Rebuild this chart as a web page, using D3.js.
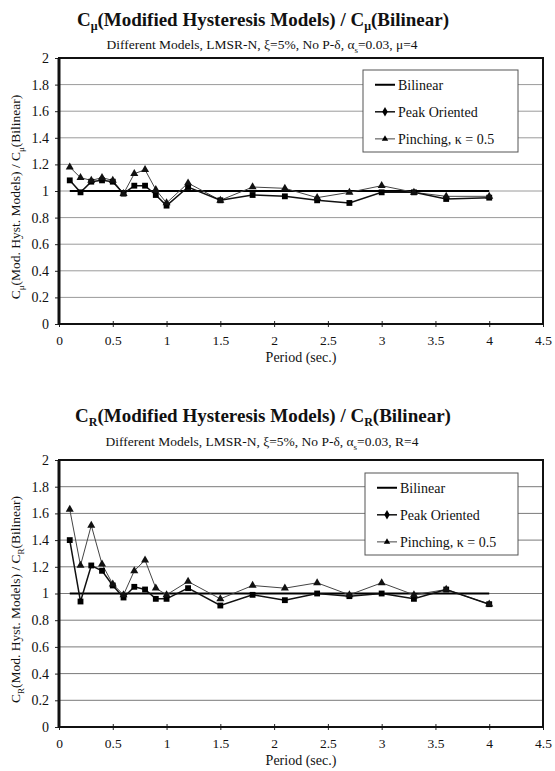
<!DOCTYPE html>
<html>
<head>
<meta charset="utf-8">
<script src="https://cdn.jsdelivr.net/npm/d3@7/dist/d3.min.js"></script>
<style>
  html, body { margin: 0; padding: 0; background: #fff; }
  svg { display: block; }
  svg text { font-family: "Liberation Serif", "Times New Roman", Times, serif; fill: #111; }
</style>
</head>
<body>
<svg id="chart" width="555" height="771"></svg>
<script>
// ---------------- DATA ----------------
const periods = [0.1, 0.2, 0.3, 0.4, 0.5, 0.6, 0.7, 0.8, 0.9, 1.0, 1.2, 1.5, 1.8, 2.1, 2.4, 2.7, 3.0, 3.3, 3.6, 4.0];

// Top chart: C_mu ratio
const bilinearMu = [1, 1, 1, 1, 1, 1, 1, 1, 1, 1, 1, 1, 1, 1, 1, 1, 1, 1, 1, 1];
const peakMu     = [1.08, 0.99, 1.07, 1.08, 1.07, 0.98, 1.04, 1.04, 0.97, 0.89, 1.03, 0.93, 0.97, 0.96, 0.93, 0.91, 0.99, 0.99, 0.94, 0.95];
const pinchMu    = [1.18, 1.10, 1.08, 1.10, 1.08, 0.98, 1.13, 1.16, 1.01, 0.91, 1.06, 0.93, 1.03, 1.02, 0.95, 0.99, 1.04, 0.99, 0.96, 0.96];

// Bottom chart: C_R ratio
const bilinearR = [1, 1, 1, 1, 1, 1, 1, 1, 1, 1, 1, 1, 1, 1, 1, 1, 1, 1, 1, 1];
const peakR     = [1.40, 0.94, 1.21, 1.17, 1.06, 0.97, 1.05, 1.03, 0.96, 0.96, 1.04, 0.91, 0.99, 0.95, 1.00, 0.98, 1.00, 0.96, 1.03, 0.92];
const pinchR    = [1.63, 1.21, 1.51, 1.22, 1.07, 0.99, 1.17, 1.25, 1.04, 0.99, 1.09, 0.96, 1.06, 1.04, 1.08, 0.99, 1.08, 0.99, 1.03, 0.92];

const xTicks = [0, 0.5, 1, 1.5, 2, 2.5, 3, 3.5, 4, 4.5];
const yTicks = [0, 0.2, 0.4, 0.6, 0.8, 1, 1.2, 1.4, 1.6, 1.8, 2];
const legendLabels = ["Bilinear", "Peak Oriented", "Pinching, κ = 0.5"];
const xTitle = "Period (sec.)";

// ---------------- DRAW ----------------
const svg = d3.select("#chart");
svg.append("rect").attr("width", 555).attr("height", 771).attr("fill", "#fff");

function richText(el, parts, size, subSize, shiftRatio = 0.3) {
  let prevSub = false;
  const shift = size * shiftRatio;
  parts.forEach(([t, sub]) => {
    let dy = 0;
    if (sub && !prevSub) dy = shift;
    if (!sub && prevSub) dy = -shift;
    el.append("tspan").attr("font-size", sub ? subSize : size).attr("dy", dy).text(t);
    prevSub = sub;
  });
}

function drawChart(cfg) {
  const { top, bottom, left, right, sym, subParts, titleY, subY, legendBox, gridColor, data } = cfg;
  const x = d3.scaleLinear().domain([0, 4.5]).range([left, right]);
  const y = d3.scaleLinear().domain([0, 2]).range([bottom, top]);
  const g = svg.append("g");

  // Title
  const t = g.append("text").attr("x", 263).attr("y", titleY).attr("text-anchor", "middle")
    .attr("font-weight", "bold").attr("font-size", 19);
  richText(t, [["C", false], [sym, true], ["(Modified Hysteresis Models) / C", false], [sym, true], ["(Bilinear)", false]], 19, 12, 0.22);

  const st = g.append("text").attr("x", 262).attr("y", subY).attr("text-anchor", "middle").attr("font-size", 13.5);
  richText(st, subParts, 13.5, 9);

  // Gridlines
  g.append("g").selectAll("line").data(yTicks.filter(v => v > 0 && v < 2)).join("line")
    .attr("x1", left).attr("x2", right)
    .attr("y1", d => y(d)).attr("y2", d => y(d))
    .attr("stroke", gridColor).attr("stroke-width", 1);

  // Axes
  const yAxis = d3.axisLeft(y).tickValues(yTicks).tickSize(4).tickFormat(d => d3.format("~g")(d));
  const ya = g.append("g").attr("transform", `translate(${left},0)`).call(yAxis);
  ya.select(".domain").remove();
  ya.selectAll("text").attr("font-size", 14).attr("dx", -3).attr("fill", "#111");
  ya.selectAll("line").attr("stroke", "#222");

  const xAxis = d3.axisBottom(x).tickValues(xTicks).tickSize(4).tickFormat(d => d3.format("~g")(d));
  const xa = g.append("g").attr("transform", `translate(0,${bottom})`).call(xAxis);
  xa.select(".domain").remove();
  xa.selectAll("text").attr("font-size", 13.5).attr("y", 6).attr("dy", "1.1em").attr("fill", "#111");
  xa.selectAll("line").attr("stroke", "#222").attr("y1", -3).attr("y2", 3);

  g.append("text").attr("x", x(2.25)).attr("y", bottom + 38).attr("text-anchor", "middle")
    .attr("font-size", 14).text(xTitle);

  // Y title
  const yt = g.append("text").attr("transform", `translate(20,${(top + bottom) / 2 + 6}) rotate(-90)`)
    .attr("text-anchor", "middle").attr("font-size", 13.5);
  richText(yt, [["C", false], [sym, true], ["(Mod. Hyst. Models) / C", false], [sym, true], ["(Bilinear)", false]], 13.5, 9);

  // Frame
  g.append("rect").attr("x", left).attr("y", top).attr("width", right - left).attr("height", bottom - top)
    .attr("fill", "none").attr("stroke", "#111").attr("stroke-width", 2);
  g.append("line").attr("x1", left).attr("x2", left).attr("y1", top).attr("y2", bottom)
    .attr("stroke", "#111").attr("stroke-width", 3);

  const line = d3.line().x(d => x(d[0])).y(d => y(d[1]));
  const pts = vals => periods.map((p, i) => [p, vals[i]]);

  g.append("path").attr("d", line(pts(data.bil))).attr("fill", "none").attr("stroke", "#000").attr("stroke-width", 2.2);
  g.append("path").attr("d", line(pts(data.pin))).attr("fill", "none").attr("stroke", "#444").attr("stroke-width", 1);
  g.append("path").attr("d", line(pts(data.peak))).attr("fill", "none").attr("stroke", "#111").attr("stroke-width", 1.5);

  const tri = d3.symbol().type(d3.symbolTriangle).size(28);
  const sq = d3.symbol().type(d3.symbolSquare).size(34);
  g.append("g").selectAll("path").data(pts(data.peak)).join("path")
    .attr("d", sq).attr("transform", d => `translate(${x(d[0])},${y(d[1])})`).attr("fill", "#000");
  g.append("g").selectAll("path").data(pts(data.pin)).join("path")
    .attr("d", tri).attr("transform", d => `translate(${x(d[0])},${y(d[1])})`).attr("fill", "#111");

  // Legend
  const [lx, ly, lw, lh] = legendBox;
  const lg = g.append("g");
  lg.append("rect").attr("x", lx).attr("y", ly).attr("width", lw).attr("height", lh)
    .attr("fill", "#fff").attr("stroke", "#555").attr("stroke-width", 1);
  const rows = [ly + lh * 0.18, ly + lh * 0.51, ly + lh * 0.84];
  rows.forEach((ry, i) => {
    const sx1 = lx + 12, sx2 = lx + 32;
    lg.append("line").attr("x1", sx1).attr("x2", sx2).attr("y1", ry).attr("y2", ry)
      .attr("stroke", i === 2 ? "#444" : "#000").attr("stroke-width", i === 0 ? 2 : (i === 1 ? 1.4 : 1));
    if (i === 1) lg.append("path").attr("d", d3.symbol().type(d3.symbolDiamond).size(26)).attr("transform", `translate(${(sx1 + sx2) / 2},${ry})`).attr("fill", "#000");
    if (i === 2) lg.append("path").attr("d", d3.symbol().type(d3.symbolTriangle).size(18)).attr("transform", `translate(${(sx1 + sx2) / 2},${ry})`).attr("fill", "#000");
    lg.append("text").attr("x", sx2 + 3).attr("y", ry + 5).attr("font-size", 14).text(legendLabels[i]);
  });
}

drawChart({
  top: 58, bottom: 324, left: 59, right: 543, sym: "μ",
  subParts: [["Different Models, LMSR-N, ξ=5%,  No P-δ, α", false], ["s", true], ["=0.03, μ=4", false]],
  titleY: 26, subY: 49, gridColor: "#9a9a9a",
  legendBox: [363, 70, 155, 82],
  data: { bil: bilinearMu, peak: peakMu, pin: pinchMu }
});

drawChart({
  top: 460, bottom: 727, left: 59, right: 543, sym: "R",
  subParts: [["Different Models, LMSR-N, ξ=5%,  No P-δ, α", false], ["s", true], ["=0.03, R=4", false]],
  titleY: 422, subY: 446, gridColor: "#7a7a7a",
  legendBox: [365, 473, 153, 82],
  data: { bil: bilinearR, peak: peakR, pin: pinchR }
});
</script>
</body>
</html>
